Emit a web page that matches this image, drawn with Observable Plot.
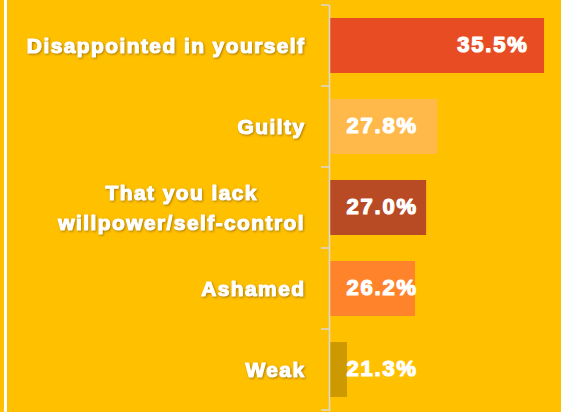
<!DOCTYPE html>
<html>
<head>
<meta charset="utf-8">
<script src="https://cdn.jsdelivr.net/npm/d3@7"></script>
<script src="https://cdn.jsdelivr.net/npm/@observablehq/plot@0.6"></script>
<style>
  html, body { margin: 0; padding: 0; background: #FFC000; }
  #wrap { position: relative; width: 561px; height: 412px; overflow: hidden; }
  #edge { position: absolute; left: 4px; top: 0; width: 2.5px; height: 412px; background: #ffffff; }
  .cat text { filter: drop-shadow(1.5px 1.5px 0.8px rgba(110,70,0,0.55)); }
  .heavy text { paint-order: stroke; stroke: #ffffff; stroke-width: 1.2px; stroke-linejoin: round; }
</style>
</head>
<body>
<div id="wrap"><div id="edge"></div></div>
<script>
const categories = [
  "Disappointed in yourself",
  "Guilty",
  "That you lack\nwillpower/self-control",
  "Ashamed",
  "Weak"
];
const values = [35.5, 27.8, 27.0, 26.2, 21.3];
const colors = ["#E84C22", "#FFB84A", "#B84A24", "#FF832A", "#CC9900"];
const xDomain = [20, 36];

const data = categories.map((c, i) => ({category: c, value: values[i], color: colors[i]}));
const FONT = "'Liberation Sans', Arial, sans-serif";

const plot = Plot.plot({
  width: 561,
  height: 412,
  marginLeft: 329,
  marginRight: 10,
  marginTop: 5,
  marginBottom: 1,
  style: {background: "#FFC000", fontFamily: FONT, overflow: "visible"},
  x: {domain: xDomain, axis: null},
  y: {domain: categories, axis: null, paddingInner: 0.32, paddingOuter: 0.16},
  color: {type: "identity"},
  marks: [
    Plot.barX(data, {x1: xDomain[0], x2: "value", y: "category", fill: "color", insetLeft: 1}),
    Plot.ruleX([xDomain[0]], {stroke: "#D9D9D9", strokeWidth: 1.5}),
    Plot.text(data, {
      x: xDomain[0], y: "category", text: "category",
      textAnchor: "end", dx: -24, dy: -3, fill: "white",
      fontSize: 21, fontWeight: "bold", lineHeight: 1.45, className: "cat heavy"
    }),
    Plot.text(data.slice(0, 1), {
      x: "value", y: "category", text: d => d.value.toFixed(1) + "%",
      textAnchor: "end", dx: -16, dy: -1, fill: "white", fontSize: 22, fontWeight: "bold", className: "heavy"
    }),
    Plot.text(data.slice(1), {
      x: xDomain[0], y: "category", text: d => d.value.toFixed(1) + "%",
      textAnchor: "start", dx: 17, dy: -1, fill: "white", fontSize: 22, fontWeight: "bold", className: "heavy"
    })
  ]
});

document.getElementById("wrap").appendChild(plot);

d3.select(plot).selectAll("g.cat text").style("letter-spacing", "1.4px");
d3.select(plot).selectAll("g.heavy:not(.cat) text").style("letter-spacing", "1.8px");

// center-align multi-line category labels (as in the original)
d3.select(plot).selectAll("g.cat text").each(function () {
  const t = d3.select(this);
  if (t.selectAll("tspan").size() > 1) {
    const w = this.getBBox().width;
    t.attr("text-anchor", "middle");
    t.selectAll("tspan").attr("x", -w / 2);
  }
});

// category boundary ticks on the axis line
const ys = plot.scale("y");
const xs = plot.scale("x");
const gap = (ys.step - ys.bandwidth) / 2;
const bounds = categories.map(c => ys.apply(c) - gap).concat([ys.apply(categories[categories.length - 1]) + ys.bandwidth + gap]);
const x0 = xs.apply(xDomain[0]);
d3.select(plot).append("g")
  .selectAll("line").data(bounds).join("line")
  .attr("x1", x0 - 8).attr("x2", x0)
  .attr("y1", d => d).attr("y2", d => d)
  .attr("stroke", "#D9D9D9").attr("stroke-width", 1.5);
</script>
</body>
</html>
